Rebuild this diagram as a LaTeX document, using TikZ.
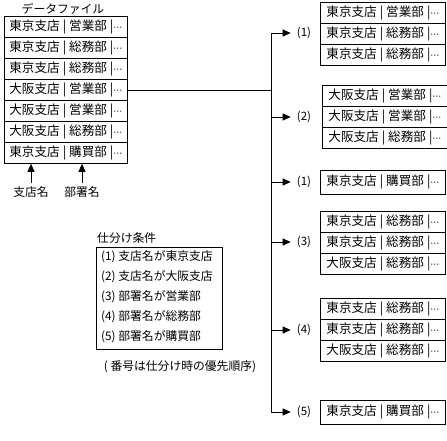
\documentclass[tikz,border=0pt]{standalone}
\usepackage{fontspec}
\setmainfont{Noto Sans CJK JP}
\newfontfamily\dvsans{DejaVu Sans}
\usetikzlibrary{arrows.meta}
\newcommand{\rowtext}[2]{#1\hspace{3pt}|\hspace{3pt}#2\hspace{3pt}|{\dvsans\fontsize{9}{10}\selectfont ⋯}}
\begin{document}
\begin{tikzpicture}[x=1pt,y=-1pt,
  txt/.style={inner sep=2pt, font=\fontsize{11.8}{14}\selectfont},
  rec/.style={draw=black, line width=0.8pt, minimum width=123pt, minimum height=21pt, inner sep=0pt, anchor=north west, font=\fontsize{12.6}{14}\selectfont},
  recr/.style={rec, minimum width=125pt},
  recs/.style={recr, minimum height=24pt},
  lab/.style={inner ysep=0pt, inner xsep=6pt, font=\fontsize{11.5}{14}\selectfont},
  arr/.style={line width=0.8pt, -{Triangle[length=8pt,width=7pt]}},
  ln/.style={line width=0.8pt}
]
\useasboundingbox (0,0) rectangle (447,440);

% data file
\node[txt] (title) at (63,9) {データファイル};
\node[rec] (d1) at (4,16) {\rowtext{東京支店}{営業部}};
\node[rec] (d2) at (4,37) {\rowtext{東京支店}{総務部}};
\node[rec] (d3) at (4,58) {\rowtext{東京支店}{総務部}};
\node[rec] (d4) at (4,79) {\rowtext{大阪支店}{営業部}};
\node[rec] (d5) at (4,100) {\rowtext{大阪支店}{営業部}};
\node[rec] (d6) at (4,121) {\rowtext{大阪支店}{総務部}};
\node[rec] (d7) at (4,142) {\rowtext{東京支店}{購買部}};

\node[txt, inner sep=3pt] (shiten) at (31,192) {支店名};
\node[txt, inner sep=3pt] (busho) at (82,192) {部署名};
\draw[arr] (shiten.north) -- (shiten.north |- d7.south);
\draw[arr] (busho.north) -- (busho.north |- d7.south);

% conditions
\node[txt, anchor=west] (jk) at (95,238) {仕分け条件};
\node[draw=black, line width=0.8pt, minimum width=126pt, minimum height=102pt, inner sep=0pt, anchor=north west] (cbox) at (96,247) {};
\node[txt, anchor=west] (c1) at (99,257) {(1) 支店名が東京支店};
\node[txt, anchor=west] (c2) at (99,277) {(2) 支店名が大阪支店};
\node[txt, anchor=west] (c3) at (99,297) {(3) 部署名が営業部};
\node[txt, anchor=west] (c4) at (99,317) {(4) 部署名が総務部};
\node[txt, anchor=west] (c5) at (99,337) {(5) 部署名が購買部};
\node[txt] (note) at (180,367) {( 番号は仕分け時の優先順序)};

% trunk
\coordinate (t1) at (271,33);
\coordinate (t2) at (271,117);
\coordinate (t3) at (271,182);
\coordinate (t4) at (271,242);
\coordinate (t5) at (271,330);
\coordinate (t6) at (271,412);
\draw[ln] (d4.east) -- (d4.east -| t1);
\draw[ln, line cap=rect] (t1) -- (t6);

\node[lab] (l1) at (304,33) {(1)};
\node[lab] (l2) at (304,117) {(2)};
\node[lab] (l3) at (304,182) {(1)};
\node[lab] (l4) at (304,242) {(3)};
\node[lab] (l5) at (304,330) {(4)};
\node[lab] (l6) at (304,412) {(5)};
\draw[arr] (t1) -- (l1.west);
\draw[arr] (t2) -- (l2.west);
\draw[arr] (t3) -- (l3.west);
\draw[arr] (t4) -- (l4.west);
\draw[arr] (t5) -- (l5.west);
\draw[arr] (t6) -- (l6.west);

% output boxes
\node[recr] (a1) at (320,2) {\rowtext{東京支店}{営業部}};
\node[recr] (a2) at (320,23) {\rowtext{東京支店}{総務部}};
\node[recr] (a3) at (320,44) {\rowtext{東京支店}{総務部}};

\node[recr] (b1) at (322,85) {\rowtext{大阪支店}{営業部}};
\node[recr] (b2) at (322,106) {\rowtext{大阪支店}{営業部}};
\node[recr] (b3) at (322,127) {\rowtext{大阪支店}{総務部}};

\node[recs] (s1) at (320,170) {\rowtext{東京支店}{購買部}};

\node[recr] (e1) at (320,211) {\rowtext{東京支店}{総務部}};
\node[recr] (e2) at (320,232) {\rowtext{東京支店}{総務部}};
\node[recr] (e3) at (320,253) {\rowtext{大阪支店}{総務部}};

\node[recr] (f1) at (320,298) {\rowtext{東京支店}{総務部}};
\node[recr] (f2) at (320,319) {\rowtext{東京支店}{総務部}};
\node[recr] (f3) at (320,340) {\rowtext{大阪支店}{総務部}};

\node[recs] (g1) at (320,400) {\rowtext{東京支店}{購買部}};
\end{tikzpicture}
\end{document}
